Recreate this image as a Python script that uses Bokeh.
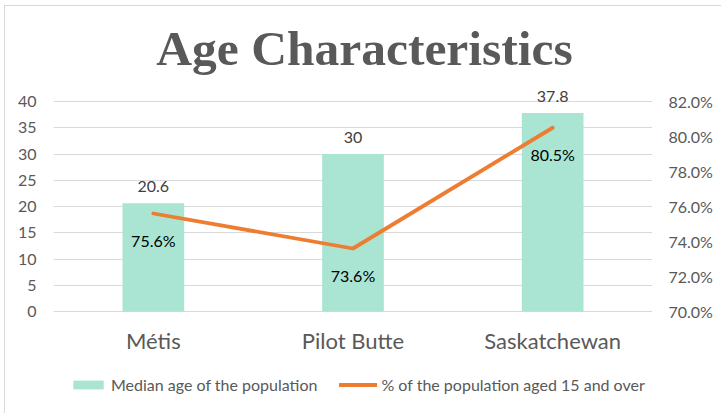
from bokeh.plotting import figure
from bokeh.models import (ColumnDataSource, Range1d, FactorRange, LinearAxis, FixedTicker,
                          NumeralTickFormatter, LabelSet, Label, Legend, LegendItem)
from bokeh.core.properties import value
from bokeh.embed import file_html
from bokeh.resources import INLINE

categories = ["Métis", "Pilot Butte", "Saskatchewan"]
median_age = [20.6, 30, 37.8]
pct_15_over = [0.756, 0.736, 0.805]
median_age_labels = ["20.6", "30", "37.8"]
pct_labels = ["75.6%", "73.6%", "80.5%"]
left_ticks = [0, 5, 10, 15, 20, 25, 30, 35, 40]
right_ticks = [0.70, 0.72, 0.74, 0.76, 0.78, 0.80, 0.82]
title_text = "Age Characteristics"

FONT = "Lato"
GRAY = "#595959"

# layout plan (pixels inside the figure): frame fills the full height
W, H = 721, 413
LEFT, RIGHT = 53, 69
Y0_PX, Y40_PX = 311, 101          # pixel rows of value 0 and value 40
unit = (Y0_PX - Y40_PX) / 40.0
y_start = -(H - Y0_PX) / unit
y_end = 40 + Y40_PX / unit
r_per_unit = (0.82 - 0.70) / 40.0
r_start = 0.70 + y_start * r_per_unit
r_end = 0.70 + y_end * r_per_unit

src = ColumnDataSource(dict(cat=categories, age=median_age, pct=pct_15_over,
                            age_lbl=median_age_labels, pct_lbl=pct_labels))

p = figure(x_range=FactorRange(*categories), y_range=Range1d(y_start, y_end),
           width=W, height=H, output_backend="svg", toolbar_location=None,
           x_axis_location=None,
           min_border_left=LEFT, min_border_right=RIGHT, min_border_top=0, min_border_bottom=0)
p.title = None
p.extra_y_ranges = {"right": Range1d(r_start, r_end)}
p.outline_line_color = None
p.background_fill_alpha = 0
p.border_fill_alpha = 0
p.styles = {"background-color": "white",
            "box-shadow": "inset 4px 5px 0 0 white, inset 5px 6px 0 0 #D9D9D9"}

bars = p.vbar(x="cat", top="age", bottom=0, width=0.309, source=src,
              fill_color="#A9E5D2", line_color=None)
line = p.line(x="cat", y="pct", source=src, y_range_name="right", line_width=3.8,
              line_color="#ED7D31", line_cap="round", line_join="round")

p.add_layout(LabelSet(x="cat", y="age", text="age_lbl", source=src, text_align="center",
                      text_baseline="middle", y_offset=17, text_font=value(FONT),
                      text_font_size="16px", text_color="#404040"))
p.add_layout(LabelSet(x="cat", y="pct", text="pct_lbl", source=src, y_range_name="right",
                      text_align="center", text_baseline="middle", y_offset=-27,
                      text_font=value(FONT), text_font_size="16px", text_color="#000000"))
# category labels (x axis)
p.add_layout(LabelSet(x="cat", y=0, text="cat", source=src, text_align="center",
                      text_baseline="middle", y_offset=-29, text_font=value(FONT),
                      text_font_size="22px", text_color=GRAY))

# title (centre of text line at pixel row 48)
p.add_layout(Label(x=1.558, y=(Y0_PX - 48) / unit, text=title_text, text_align="center",
                   text_baseline="middle", text_font="Liberation Serif",
                   text_font_style="bold", text_font_size="49.5px", text_color=GRAY))

# left axis
ax = p.yaxis[0]
ax.ticker = FixedTicker(ticks=left_ticks)
ax.axis_line_color = None
ax.major_tick_line_color = None
ax.minor_tick_line_color = None
ax.major_tick_out = 0
ax.major_tick_in = 0
ax.major_label_text_font = FONT
ax.major_label_text_color = GRAY
ax.major_label_text_font_size = "16px"
ax.major_label_standoff = 17
p.xgrid.grid_line_color = None
p.ygrid.grid_line_color = "#D9D9D9"
p.ygrid.grid_line_width = 1

rax = LinearAxis(y_range_name="right", ticker=FixedTicker(ticks=right_ticks),
                 formatter=NumeralTickFormatter(format="0.0%"))
rax.axis_line_color = None
rax.major_tick_line_color = None
rax.minor_tick_line_color = None
rax.major_tick_out = 0
rax.major_tick_in = 0
rax.major_label_text_font = FONT
rax.major_label_text_color = GRAY
rax.major_label_text_font_size = "16px"
rax.major_label_standoff = 16
p.add_layout(rax, "right")

legend = Legend(items=[LegendItem(label="Median age of the population", renderers=[bars]),
                       LegendItem(label="% of the population aged 15 and over", renderers=[line])],
                orientation="horizontal", location=(16, 19), border_line_color=None,
                background_fill_alpha=0, glyph_width=38, glyph_height=11,
                label_standoff=4, spacing=22, padding=0, margin=0,
                label_text_font=FONT, label_text_font_size="16px", label_text_color=GRAY)
p.add_layout(legend)

open("out.html", "w").write(file_html(p, INLINE))
